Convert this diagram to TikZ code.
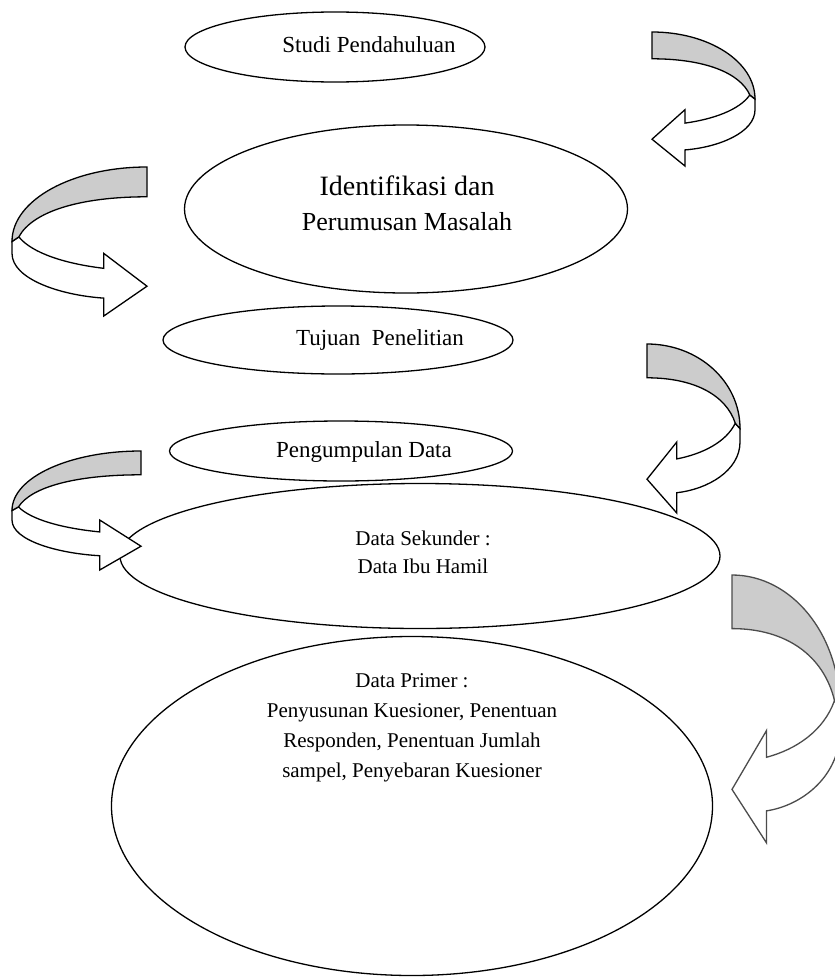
\documentclass[tikz,border=0pt]{standalone}
\usepackage{fontspec}
\setmainfont{Liberation Serif}
\usetikzlibrary{shapes.geometric}
\tikzset{
  oval/.style={draw, ellipse, line width=1.3pt, inner sep=0pt},
  lbl/.style={inner sep=0pt, align=center},
  rib/.style={draw=black, line width=1.3pt, line join=miter},
}
\newcommand{\ribarrow}[6]{% x0,y0,w,h,dir,color
  \begin{scope}[shift={(#1,#2)}, xscale=#5*#3, yscale=#4]
    \filldraw[rib, draw=#6, fill=white] (0.95,0.47) -- (1,0.5) -- (1,0.58)
      .. controls (1,0.75) and (0.65,0.86) .. (0.32,0.88) -- (0.32,1) -- (0,0.8)
      -- (0.32,0.58) -- (0.32,0.68) .. controls (0.6,0.65) and (0.85,0.58) .. cycle;
    \filldraw[rib, draw=#6, fill=gray!40] (0,0) .. controls (0.55,0) and (1,0.22) .. (1,0.5)
      -- (0.95,0.47) .. controls (0.85,0.3) and (0.5,0.2) .. (0,0.2) -- cycle;
  \end{scope}}
\begin{document}
\begin{tikzpicture}[x=1pt, y=-1pt]
\useasboundingbox (0,0) rectangle (835,977);
\fill[white] (0,0) rectangle (835,977);

% ellipses
\node[oval, minimum width=300, minimum height=70] (e1) at (335,47) {};
\node[oval, minimum width=443, minimum height=168] (e2) at (406,209) {};
\node[oval, minimum width=350, minimum height=68] (e3) at (338,340) {};
\node[oval, minimum width=343, minimum height=60] (e4) at (341,451) {};
\node[oval, minimum width=600, minimum height=145] (e5) at (420,556) {};
\node[oval, minimum width=601, minimum height=339] (e6) at (412,806) {};

% texts
\node[lbl, font=\fontsize{23}{27}\selectfont] (t1) at (369,45) {Studi Pendahuluan};
\node[lbl, font=\fontsize{28}{32}\selectfont] (t2a) at (407,186) {Identifikasi dan};
\node[lbl, font=\fontsize{26}{30}\selectfont] (t2b) at (407,222) {Perumusan Masalah};
\node[lbl, font=\fontsize{23}{27}\selectfont] (t3) at (380,340) {Tujuan\ \ Penelitian};
\node[lbl, font=\fontsize{23}{27}\selectfont] (t4) at (364,452) {Pengumpulan Data};
\node[lbl, font=\fontsize{21}{28}\selectfont] (t5) at (423,552) {Data Sekunder :\\Data Ibu Hamil};
\node[lbl, font=\fontsize{21}{30}\selectfont] (t6) at (412,728) {Data Primer :\\Penyusunan Kuesioner, Penentuan\\Responden, Penentuan Jumlah\\sampel, Penyebaran Kuesioner};

% curved ribbon arrows
\ribarrow{652}{32}{103}{134}{1}{black}
\ribarrow{147}{167}{135}{149}{-1}{black}
\ribarrow{647}{344}{93}{169}{1}{black}
\ribarrow{141}{451}{129}{119}{-1}{black}
\ribarrow{732}{575}{108}{268}{1}{black!70}
\end{tikzpicture}
\end{document}
